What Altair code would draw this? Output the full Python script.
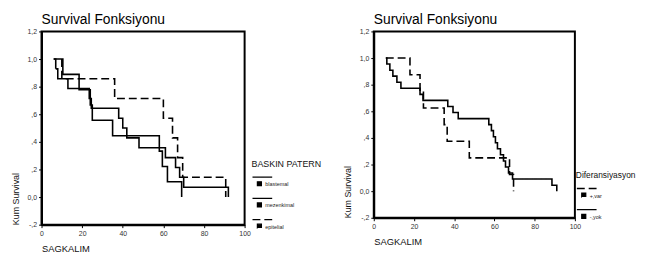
import altair as alt
import pandas as pd

FONT = "Liberation Sans"

# ---------------- data ----------------
x_ticks = [0, 20, 40, 60, 80, 100]
y_ticks = [-0.2, 0.0, 0.2, 0.4, 0.6, 0.8, 1.0, 1.2]

# Left panel: BASKIN PATERN
left_groups = ["blastemal", "mezenkimal", "epitelial"]
blast_t = [6, 7, 8, 13, 23.5, 24.5, 38, 40, 42, 48, 61, 66, 68, 70, 92]
blast_s = [1.0, 0.929, 0.857, 0.786, 0.714, 0.643, 0.571, 0.5, 0.429, 0.357,
           0.286, 0.214, 0.143, 0.071, 0.0]
mezen_t = [6, 10.5, 18.5, 24, 25, 35, 58, 59.5, 62, 69]
mezen_s = [1.0, 0.889, 0.778, 0.667, 0.556, 0.444, 0.333, 0.222, 0.111, 0.0]
epit_t = [10, 10, 36, 60, 64.5, 67, 69.5, 90.7]
epit_s = [1.0, 0.857, 0.714, 0.571, 0.429, 0.286, 0.143, 0.0]

# Right panel: Diferansiyasyon
right_groups = ["+,var", "-,yok"]
var_t = [6, 18, 23, 24.7, 35, 36.5, 47.5, 67.5, 69.5]
var_s = [1.0, 0.875, 0.75, 0.625, 0.5, 0.375, 0.25, 0.125, 0.0]
yok_t = [6, 6.5, 8, 9.5, 11.5, 13.5, 23, 24.5, 36.8, 39.4, 42, 57.2, 58.5,
         59.5, 60.5, 61.5, 63, 64.5, 65.5, 67, 69, 88.6, 91]
yok_s = [1.0, 0.955, 0.909, 0.864, 0.818, 0.773, 0.727, 0.682, 0.636, 0.591,
         0.545, 0.5, 0.455, 0.409, 0.364, 0.318, 0.273, 0.227, 0.182, 0.136,
         0.091, 0.045, 0.0]


def frame(pairs):
    rows = []
    for name, ts, ss in pairs:
        for i, (t, s) in enumerate(zip(ts, ss)):
            rows.append({"t": t, "s": s, "group": name, "i": i})
    return pd.DataFrame(rows)


left_df = frame([("blastemal", blast_t, blast_s),
                 ("mezenkimal", mezen_t, mezen_s),
                 ("epitelial", epit_t, epit_s)])
right_df = frame([("+,var", var_t, var_s), ("-,yok", yok_t, yok_s)])

SOLID = [1, 0]
DASH = [8, 4]

# legend symbol: a short line above a small square marker
SYMBOL = ("M -1 -1.2 H 2.33 "
          "M -0.17 -0.42 H 0.5 V 0.25 H -0.17 Z")

Y_LABEL = ("datum.value == 0 ? '0,0' : (abs(datum.value) < 1 ? "
           "(datum.value < 0 ? '-' : '') + ',' + format(abs(datum.value) * 10, 'd') : "
           "replace(format(datum.value, '.1f'), '.', ','))")


def panel(df, groups, dashes, legend_title, w, h, lx, ly, tfs):
    return alt.Chart(df).mark_line(
        interpolate="step-after", color="black", strokeWidth=1.6, clip=True
    ).encode(
        x=alt.X("t:Q", scale=alt.Scale(domain=[0, 100], nice=False, zero=False),
                axis=alt.Axis(values=x_ticks, title="SAGKALIM", titleAnchor="start",
                              titlePadding=7, titleFontSize=9.5, titleFontWeight="normal",
                              titleColor="#111", titleFont=FONT,
                              labelFontSize=7, labelFont=FONT, labelColor="#333",
                              tickSize=3, tickColor="black", domainColor="black",
                              domainWidth=2, grid=False, labelFlush=False)),
        y=alt.Y("s:Q", scale=alt.Scale(domain=[-0.2, 1.2], nice=False, zero=False),
                axis=alt.Axis(values=y_ticks, labelExpr=Y_LABEL, title="Kum Survival",
                              titleAnchor="start", titlePadding=7, titleFontSize=9,
                              titleFontWeight="normal", titleColor="#111",
                              titleFont=FONT, labelFontSize=7, labelFont=FONT,
                              labelColor="#333", tickSize=3, tickColor="black",
                              domainColor="black", domainWidth=2, grid=False,
                              labelFlush=False)),
        strokeDash=alt.StrokeDash(
            "group:N",
            scale=alt.Scale(domain=groups, range=dashes),
            legend=alt.Legend(
                title=legend_title, orient="none", legendX=lx, legendY=ly,
                symbolType=SYMBOL, symbolSize=144, symbolStrokeWidth=1.3,
                symbolStrokeColor="black", symbolFillColor="black",
                labelFontSize=5.5, labelFont=FONT, labelColor="#222",
                labelOffset=0, titleFontSize=tfs, titleFont=FONT,
                titleFontWeight="normal", titleColor="#111", titlePadding=9,
                rowPadding=6.5, padding=0, labelLimit=200, titleLimit=300,
            ),
        ),
        detail="group:N",
        order="i:Q",
    ).properties(
        width=w, height=h,
        title=alt.Title("Survival Fonksiyonu", anchor="start", frame="group",
                        fontSize=14, font=FONT, fontWeight="normal",
                        color="black", offset=1),
    )


left = panel(left_df, left_groups, [SOLID, SOLID, DASH], "BASKIN PATERN",
             206, 196, 213, 130, 9)
right = panel(right_df, right_groups, [DASH, SOLID], "Diferansiyasyon",
              204, 189, 205, 142, 8.5)

chart = alt.hconcat(left, right, spacing=20).resolve_scale(
    strokeDash="independent"
).resolve_legend(strokeDash="independent").properties(
    padding={"left": 2, "top": 2, "right": 0, "bottom": 0}
).configure(background="white").configure_view(stroke="black", strokeWidth=2)

chart.save("out.html", embed_options={"renderer": "svg", "actions": False})
